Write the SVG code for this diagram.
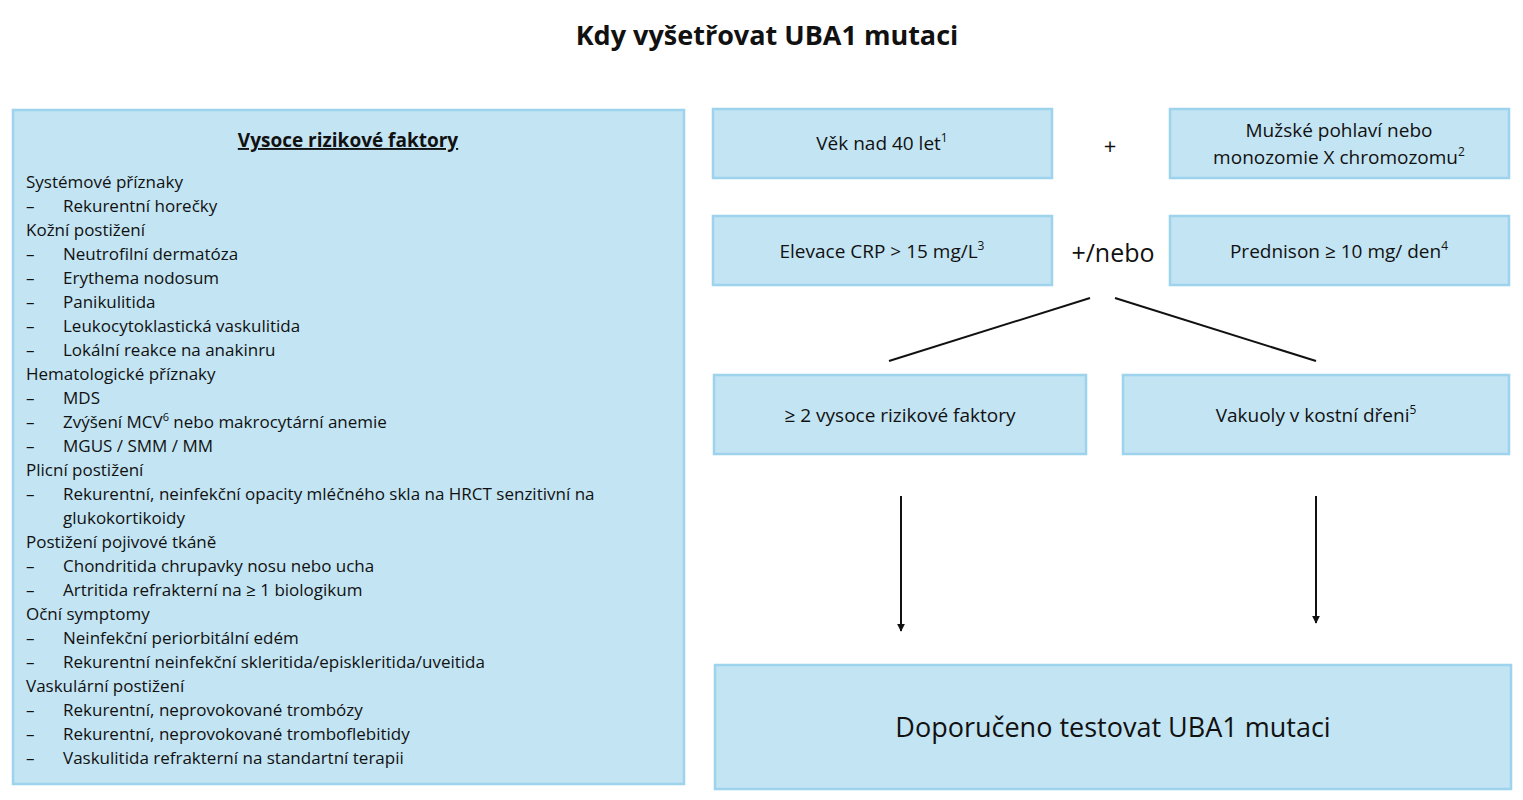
<svg xmlns="http://www.w3.org/2000/svg" width="1523" height="800" viewBox="0 0 1523 800">
<style>
.b{fill:#c3e4f3;stroke:#9dd3ec;stroke-width:2.5}
text{font-family:"Open Sans","Liberation Sans",sans-serif;fill:#111}
.t{font-size:19px;text-anchor:middle}
.l{font-size:17px}
.c{stroke:#111;stroke-width:2;fill:none}
</style>
<defs><marker id="a" viewBox="0 0 10 10" refX="9" refY="5" markerWidth="8" markerHeight="8" orient="auto" markerUnits="userSpaceOnUse"><path d="M0,0L10,5L0,10z" fill="#111"/></marker></defs>
<rect width="1523" height="800" fill="#fff"/>
<text x="767" y="45" text-anchor="middle" font-size="27" font-weight="bold">Kdy vyšetřovat UBA1 mutaci</text>
<g id="risk">
<rect class="b" x="13" y="110" width="671" height="674"/>
<text x="348" y="147" text-anchor="middle" font-size="19" font-weight="bold" text-decoration="underline">Vysoce rizikové faktory</text>
<g class="l">
<text x="26" y="188" class="l">Systémové příznaky</text>
<text x="26" y="212" class="l">–</text><text x="63" y="212" class="l">Rekurentní horečky</text>
<text x="26" y="236" class="l">Kožní postižení</text>
<text x="26" y="260" class="l">–</text><text x="63" y="260" class="l">Neutrofilní dermatóza</text>
<text x="26" y="284" class="l">–</text><text x="63" y="284" class="l">Erythema nodosum</text>
<text x="26" y="308" class="l">–</text><text x="63" y="308" class="l">Panikulitida</text>
<text x="26" y="332" class="l">–</text><text x="63" y="332" class="l">Leukocytoklastická vaskulitida</text>
<text x="26" y="356" class="l">–</text><text x="63" y="356" class="l">Lokální reakce na anakinru</text>
<text x="26" y="380" class="l">Hematologické příznaky</text>
<text x="26" y="404" class="l">–</text><text x="63" y="404" class="l">MDS</text>
<text x="26" y="428" class="l">–</text><text x="63" y="428" class="l">Zvýšení MCV<tspan font-size="11" dy="-7">6</tspan><tspan dy="7"> nebo makrocytární anemie</tspan></text>
<text x="26" y="452" class="l">–</text><text x="63" y="452" class="l">MGUS / SMM / MM</text>
<text x="26" y="476" class="l">Plicní postižení</text>
<text x="26" y="500" class="l">–</text><text x="63" y="500" class="l">Rekurentní, neinfekční opacity mléčného skla na HRCT senzitivní na</text>
<text x="63" y="524" class="l">glukokortikoidy</text>
<text x="26" y="548" class="l">Postižení pojivové tkáně</text>
<text x="26" y="572" class="l">–</text><text x="63" y="572" class="l">Chondritida chrupavky nosu nebo ucha</text>
<text x="26" y="596" class="l">–</text><text x="63" y="596" class="l">Artritida refrakterní na ≥ 1 biologikum</text>
<text x="26" y="620" class="l">Oční symptomy</text>
<text x="26" y="644" class="l">–</text><text x="63" y="644" class="l">Neinfekční periorbitální edém</text>
<text x="26" y="668" class="l">–</text><text x="63" y="668" class="l">Rekurentní neinfekční skleritida/episkleritida/uveitida</text>
<text x="26" y="692" class="l">Vaskulární postižení</text>
<text x="26" y="716" class="l">–</text><text x="63" y="716" class="l">Rekurentní, neprovokované trombózy</text>
<text x="26" y="740" class="l">–</text><text x="63" y="740" class="l">Rekurentní, neprovokované tromboflebitidy</text>
<text x="26" y="764" class="l">–</text><text x="63" y="764" class="l">Vaskulitida refrakterní na standartní terapii</text>
</g>
</g>
<g id="age"><rect class="b" x="713" y="109" width="339" height="69"/><text class="t" x="882" y="150">Věk nad 40 let<tspan font-size="12" dy="-8">1</tspan></text></g>
<g id="sex"><rect class="b" x="1170" y="109" width="339" height="69"/><text class="t" x="1339" y="137">Mužské pohlaví nebo</text><text class="t" x="1339" y="164">monozomie X chromozomu<tspan font-size="12" dy="-8">2</tspan></text></g>
<g id="crp"><rect class="b" x="713" y="216" width="339" height="69"/><text class="t" x="882" y="258">Elevace CRP &gt; 15 mg/L<tspan font-size="12" dy="-8">3</tspan></text></g>
<g id="pred"><rect class="b" x="1170" y="216" width="339" height="69"/><text class="t" x="1339" y="258">Prednison ≥ 10 mg/ den<tspan font-size="12" dy="-8">4</tspan></text></g>
<text x="1110" y="154" text-anchor="middle" font-size="22">+</text>
<text x="1113" y="262" text-anchor="middle" font-size="25">+/nebo</text>
<g id="two"><rect class="b" x="714" y="375" width="372" height="79"/><text class="t" x="900" y="422">≥ 2 vysoce rizikové faktory</text></g>
<g id="vak"><rect class="b" x="1123" y="375" width="386" height="79"/><text class="t" x="1316" y="422">Vakuoly v kostní dřeni<tspan font-size="12" dy="-8">5</tspan></text></g>
<g id="test"><rect class="b" x="715" y="665" width="796" height="124"/><text x="1113" y="737" text-anchor="middle" font-size="27">Doporučeno testovat UBA1 mutaci</text></g>
<g id="connectors">
<line class="c" x1="1090" y1="298" x2="889" y2="361"/>
<line class="c" x1="1115" y1="298" x2="1316" y2="361"/>
<line class="c" x1="901" y1="496" x2="901" y2="631" marker-end="url(#a)"/>
<line class="c" x1="1316" y1="496" x2="1316" y2="623" marker-end="url(#a)"/>
</g>
</svg>
